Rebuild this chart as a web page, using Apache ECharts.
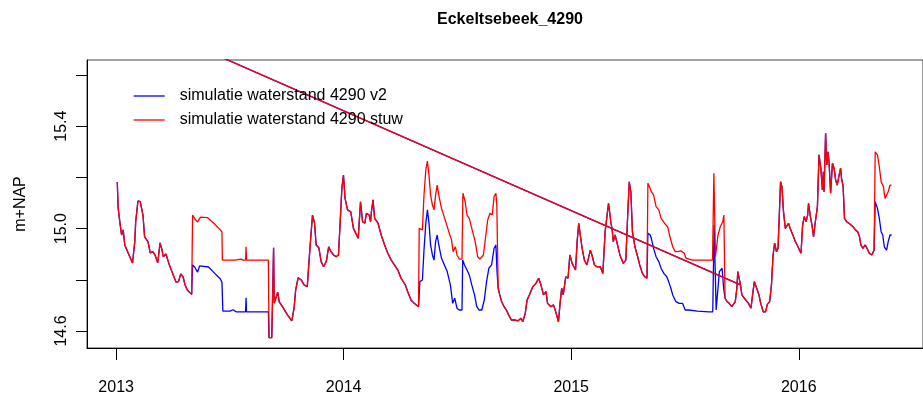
<!DOCTYPE html>
<html>
<head>
<meta charset="utf-8">
<script src="https://cdn.jsdelivr.net/npm/echarts@6/dist/echarts.min.js"></script>
<style>
  html, body { margin: 0; padding: 0; background: #fff; }
  #mychart { width: 923px; height: 401px; }
</style>
</head>
<body>
<div id="mychart"></div>
<script>
// [decimal year, m+NAP]
var commonA = [
  [2013.005, 15.182], [2013.009, 15.080], [2013.016, 15.027], [2013.024, 14.975], [2013.031, 14.995],
  [2013.038, 14.936], [2013.053, 14.905], [2013.072, 14.866], [2013.082, 14.949], [2013.086, 15.027],
  [2013.096, 15.108], [2013.106, 15.105], [2013.118, 15.053], [2013.125, 14.968], [2013.132, 14.975],
  [2013.140, 14.949], [2013.150, 14.905], [2013.161, 14.910], [2013.171, 14.897], [2013.183, 14.866],
  [2013.193, 14.944], [2013.202, 14.916], [2013.207, 14.890], [2013.219, 14.901], [2013.231, 14.866],
  [2013.245, 14.832], [2013.263, 14.791], [2013.274, 14.793], [2013.284, 14.823], [2013.294, 14.812],
  [2013.303, 14.780], [2013.313, 14.760], [2013.323, 14.751], [2013.332, 14.743]
];
var v2Seg1 = [
  [2013.336, 14.858], [2013.345, 14.850], [2013.358, 14.830], [2013.367, 14.854], [2013.406, 14.850],
  [2013.428, 14.830], [2013.458, 14.803], [2013.465, 14.791], [2013.469, 14.678], [2013.475, 14.674],
  [2013.484, 14.678], [2013.501, 14.678], [2013.514, 14.683], [2013.527, 14.675], [2013.558, 14.675],
  [2013.569, 14.675], [2013.571, 14.730], [2013.573, 14.675], [2013.669, 14.675]
];
var stuwSeg1 = [
  [2013.336, 15.053], [2013.349, 15.034], [2013.358, 15.026], [2013.371, 15.045], [2013.401, 15.043],
  [2013.428, 15.022], [2013.458, 14.995], [2013.465, 14.987], [2013.467, 14.877], [2013.523, 14.877],
  [2013.549, 14.881], [2013.558, 14.877], [2013.569, 14.877], [2013.571, 14.929], [2013.573, 14.877],
  [2013.669, 14.877]
];
var commonB = [
  [2013.672, 14.574], [2013.684, 14.574], [2013.692, 14.925], [2013.695, 14.709], [2013.710, 14.752],
  [2013.717, 14.714], [2013.731, 14.695], [2013.753, 14.663], [2013.772, 14.640], [2013.782, 14.689],
  [2013.789, 14.760], [2013.800, 14.808], [2013.814, 14.799], [2013.826, 14.780], [2013.840, 14.773],
  [2013.847, 14.864], [2013.854, 14.949], [2013.863, 15.053], [2013.872, 15.021], [2013.879, 14.936],
  [2013.891, 14.925], [2013.901, 14.871], [2013.912, 14.851], [2013.924, 14.873], [2013.934, 14.929],
  [2013.944, 14.910], [2013.956, 14.897], [2013.967, 14.890], [2013.977, 14.897], [2013.984, 15.014],
  [2013.992, 15.157], [2013.999, 15.209], [2014.006, 15.118], [2014.017, 15.073], [2014.031, 15.066],
  [2014.043, 15.001], [2014.057, 14.975], [2014.064, 14.962], [2014.074, 15.105], [2014.083, 15.027],
  [2014.093, 15.021], [2014.100, 15.060], [2014.112, 15.053], [2014.118, 15.027], [2014.122, 15.066],
  [2014.129, 15.112], [2014.136, 15.040], [2014.151, 15.021], [2014.165, 14.975], [2014.180, 14.936],
  [2014.194, 14.904], [2014.209, 14.877], [2014.223, 14.858], [2014.238, 14.838], [2014.252, 14.806],
  [2014.271, 14.780], [2014.281, 14.754], [2014.296, 14.721], [2014.310, 14.708], [2014.329, 14.695]
];
var v2Seg2 = [
  [2014.335, 14.793], [2014.346, 14.799], [2014.353, 14.916], [2014.361, 15.021], [2014.368, 15.073],
  [2014.375, 15.021], [2014.382, 14.936], [2014.390, 14.897], [2014.397, 14.877], [2014.404, 14.949],
  [2014.411, 14.975], [2014.418, 14.936], [2014.430, 14.884], [2014.440, 14.864], [2014.455, 14.832],
  [2014.469, 14.780], [2014.479, 14.708], [2014.488, 14.728], [2014.498, 14.689], [2014.508, 14.682],
  [2014.520, 14.682], [2014.523, 14.877], [2014.531, 14.858], [2014.542, 14.838], [2014.552, 14.819],
  [2014.563, 14.780], [2014.575, 14.741], [2014.585, 14.695], [2014.595, 14.682], [2014.607, 14.682],
  [2014.618, 14.721], [2014.628, 14.793], [2014.638, 14.845], [2014.650, 14.858], [2014.661, 14.923],
  [2014.669, 14.936], [2014.674, 14.832]
];
var stuwSeg2 = [
  [2014.332, 15.001], [2014.346, 14.995], [2014.353, 15.131], [2014.361, 15.229], [2014.368, 15.264],
  [2014.375, 15.209], [2014.382, 15.131], [2014.390, 15.092], [2014.397, 15.073], [2014.404, 15.131],
  [2014.411, 15.170], [2014.418, 15.131], [2014.430, 15.079], [2014.444, 15.040], [2014.462, 14.988],
  [2014.474, 14.956], [2014.481, 14.910], [2014.491, 14.929], [2014.498, 14.897], [2014.508, 14.881],
  [2014.520, 14.881], [2014.524, 15.138], [2014.534, 15.105], [2014.542, 15.053], [2014.552, 15.040],
  [2014.563, 15.001], [2014.578, 14.949], [2014.589, 14.890], [2014.599, 14.881], [2014.614, 14.897],
  [2014.624, 14.968], [2014.633, 15.034], [2014.643, 15.060], [2014.653, 15.053], [2014.661, 15.125],
  [2014.669, 15.138], [2014.673, 15.092]
];
var commonC = [
  [2014.679, 14.767], [2014.686, 14.741], [2014.694, 14.715], [2014.705, 14.695], [2014.715, 14.682],
  [2014.725, 14.663], [2014.737, 14.643], [2014.751, 14.643], [2014.766, 14.640], [2014.780, 14.650],
  [2014.787, 14.636], [2014.798, 14.669], [2014.806, 14.721], [2014.816, 14.741], [2014.831, 14.773],
  [2014.845, 14.786], [2014.857, 14.806], [2014.867, 14.780], [2014.878, 14.741], [2014.889, 14.754],
  [2014.896, 14.708], [2014.911, 14.695], [2014.922, 14.702], [2014.932, 14.675], [2014.944, 14.636],
  [2014.951, 14.708], [2014.958, 14.767], [2014.965, 14.741], [2014.976, 14.812], [2014.986, 14.806],
  [2014.994, 14.897], [2015.004, 14.864], [2015.012, 14.864], [2015.019, 14.838], [2015.026, 14.949],
  [2015.033, 15.021], [2015.041, 14.968], [2015.048, 14.923], [2015.058, 14.877], [2015.069, 14.858],
  [2015.077, 14.864], [2015.084, 14.916], [2015.091, 14.897], [2015.102, 14.858], [2015.113, 14.851],
  [2015.128, 14.851], [2015.139, 14.825], [2015.149, 14.988], [2015.164, 15.099], [2015.174, 15.027],
  [2015.180, 14.995], [2015.185, 14.949], [2015.193, 14.975], [2015.200, 14.949], [2015.214, 14.897],
  [2015.229, 14.864], [2015.240, 14.877], [2015.247, 15.027], [2015.255, 15.183], [2015.262, 15.144],
  [2015.269, 14.988], [2015.280, 14.929], [2015.290, 14.897], [2015.301, 14.858], [2015.313, 14.825],
  [2015.323, 14.812], [2015.333, 14.806]
];
var v2Seg3 = [
  [2015.337, 14.982], [2015.347, 14.975], [2015.352, 14.962], [2015.362, 14.923], [2015.373, 14.890],
  [2015.385, 14.871], [2015.395, 14.845], [2015.407, 14.825], [2015.420, 14.812], [2015.428, 14.793],
  [2015.438, 14.767], [2015.446, 14.741], [2015.460, 14.715], [2015.475, 14.708], [2015.489, 14.708],
  [2015.501, 14.682], [2015.518, 14.682], [2015.554, 14.678], [2015.605, 14.675], [2015.622, 14.675],
  [2015.628, 15.014], [2015.637, 14.682], [2015.651, 14.832], [2015.663, 14.845], [2015.670, 14.767]
];
var stuwSeg3 = [
  [2015.337, 15.177], [2015.347, 15.157], [2015.352, 15.144], [2015.362, 15.131], [2015.373, 15.086],
  [2015.385, 15.073], [2015.395, 15.040], [2015.410, 15.021], [2015.424, 15.007], [2015.434, 14.968],
  [2015.446, 14.929], [2015.457, 14.910], [2015.467, 14.910], [2015.482, 14.913], [2015.497, 14.904],
  [2015.503, 14.886], [2015.518, 14.881], [2015.533, 14.877], [2015.621, 14.877], [2015.627, 15.216],
  [2015.634, 14.890], [2015.645, 14.975], [2015.655, 15.007], [2015.666, 15.027], [2015.671, 15.053],
  [2015.674, 15.053]
];
var commonD = [
  [2015.676, 14.728], [2015.685, 14.715], [2015.694, 14.708], [2015.706, 14.695], [2015.714, 14.689],
  [2015.721, 14.715], [2015.728, 14.767], [2015.732, 14.832], [2015.740, 14.832], [2015.744, 14.780],
  [2015.750, 14.741], [2015.757, 14.747], [2015.767, 14.721], [2015.779, 14.708], [2015.790, 14.689],
  [2015.797, 14.741], [2015.805, 14.793], [2015.815, 14.767], [2015.825, 14.741], [2015.833, 14.708],
  [2015.844, 14.675], [2015.854, 14.675], [2015.862, 14.704], [2015.872, 14.715], [2015.880, 14.780],
  [2015.887, 14.897], [2015.894, 14.943], [2015.902, 14.910], [2015.909, 14.923], [2015.916, 14.916],
  [2015.920, 15.183], [2015.926, 15.164], [2015.933, 15.066], [2015.941, 15.001], [2015.949, 14.995],
  [2015.955, 15.021], [2015.962, 15.001], [2015.970, 15.007], [2015.977, 14.968], [2015.985, 14.949],
  [2015.993, 14.936], [2016.003, 14.916], [2016.010, 14.904], [2016.017, 15.014], [2016.024, 15.047],
  [2016.032, 15.027], [2016.039, 15.053], [2016.043, 15.099], [2016.050, 15.053], [2016.058, 15.014],
  [2016.065, 14.968], [2016.072, 15.021], [2016.079, 15.027], [2016.082, 15.086], [2016.089, 15.288],
  [2016.097, 15.236], [2016.104, 15.151], [2016.108, 15.222], [2016.111, 15.144], [2016.118, 15.372],
  [2016.123, 15.249], [2016.128, 15.300], [2016.133, 15.261], [2016.140, 15.138], [2016.148, 15.255],
  [2016.155, 15.236], [2016.162, 15.190], [2016.169, 15.170], [2016.176, 15.203], [2016.184, 15.236],
  [2016.188, 15.196], [2016.195, 15.164], [2016.201, 15.040], [2016.210, 15.027], [2016.220, 15.021],
  [2016.227, 15.014], [2016.239, 15.007], [2016.249, 14.995], [2016.259, 14.988], [2016.267, 14.968],
  [2016.273, 14.936], [2016.282, 14.923], [2016.292, 14.936], [2016.300, 14.923], [2016.310, 14.904],
  [2016.321, 14.897], [2016.331, 14.916]
];
var v2Seg4 = [
  [2016.336, 15.105], [2016.340, 15.105], [2016.346, 15.079], [2016.354, 15.040], [2016.362, 14.988],
  [2016.369, 14.975], [2016.376, 14.929], [2016.386, 14.916], [2016.393, 14.949], [2016.401, 14.975],
  [2016.408, 14.975]
];
var stuwSeg4 = [
  [2016.336, 15.300], [2016.340, 15.303], [2016.346, 15.288], [2016.354, 15.242], [2016.362, 15.183],
  [2016.372, 15.164], [2016.379, 15.118], [2016.386, 15.118], [2016.393, 15.144], [2016.401, 15.170],
  [2016.408, 15.170]
];
// straight stretch that runs off the top of the plot
var jumpSeg = [[2013.000, 15.850], [2015.744, 14.780]];

var xTicks = [2013, 2014, 2015, 2016];
var yTicks = [14.6, 14.8, 15.0, 15.2, 15.4, 15.6];
var yLabels = [14.6, 15.0, 15.4];

var nameV2 = 'simulatie waterstand 4290 v2';
var nameStuw = 'simulatie waterstand 4290 stuw';

var v2Data = [].concat(commonA, v2Seg1, commonB, v2Seg2, commonC, v2Seg3, commonD, v2Seg4);
var stuwData = [].concat(commonA, stuwSeg1, commonB, stuwSeg2, commonC, stuwSeg3, commonD, stuwSeg4);

var font = 'Liberation Sans, Arial, sans-serif';
var chart = echarts.init(document.getElementById('mychart'));

function lineSeries(name, color, data) {
  return {
    name: name,
    type: 'line',
    data: data,
    symbol: 'none',
    smooth: false,
    animation: false,
    lineStyle: { color: color, width: 1.3 },
    itemStyle: { color: color }
  };
}

var option = {
  backgroundColor: '#fff',
  animation: false,
  title: {
    text: 'Eckeltsebeek_4290',
    left: 505,
    textAlign: 'center',
    top: 7,
    textStyle: { fontFamily: font, fontSize: 16, fontWeight: 'bold', color: '#000' }
  },
  legend: {
    data: [nameV2, nameStuw],
    orient: 'vertical',
    left: 133,
    top: 88,
    padding: 0,
    itemWidth: 31,
    itemHeight: 14,
    itemGap: 8,
    itemStyle: { opacity: 0 },
    lineStyle: { width: 1.3 },
    textStyle: { fontFamily: font, fontSize: 16, color: '#000', padding: [0, 0, 0, 10] }
  },
  grid: {
    left: 87,
    right: -11,
    top: 60,
    bottom: 53,
    show: true,
    borderColor: '#444',
    borderWidth: 1
  },
  xAxis: {
    type: 'value',
    min: 2012.872,
    max: 2016.546,
    splitLine: { show: false },
    axisLine: { show: true, lineStyle: { color: '#000' } },
    axisTick: { show: true, length: 12, customValues: xTicks, lineStyle: { color: '#000' } },
    axisLabel: {
      customValues: xTicks,
      margin: 32,
      fontFamily: font,
      fontSize: 16,
      color: '#000',
      formatter: function (v) { return String(Math.round(v)); }
    }
  },
  yAxis: {
    type: 'value',
    min: 14.5336,
    max: 15.6586,
    name: 'm+NAP',
    nameLocation: 'middle',
    nameGap: 58,
    nameTextStyle: { fontFamily: font, fontSize: 16, color: '#000' },
    splitLine: { show: false },
    axisLine: { show: true, lineStyle: { color: '#000' } },
    axisTick: { show: true, length: 11, customValues: yTicks, lineStyle: { color: '#000' } },
    axisLabel: {
      customValues: yLabels,
      rotate: 90,
      margin: 17,
      fontFamily: font,
      fontSize: 16,
      color: '#000',
      formatter: function (v) { return v.toFixed(1); }
    }
  },
  series: [
    lineSeries(nameV2, '#0000ff', v2Data),
    lineSeries(nameV2, '#0000ff', jumpSeg),
    lineSeries(nameStuw, '#ff0000', stuwData),
    lineSeries(nameStuw, '#ff0000', jumpSeg)
  ]
};
chart.setOption(option);
</script>
</body>
</html>
